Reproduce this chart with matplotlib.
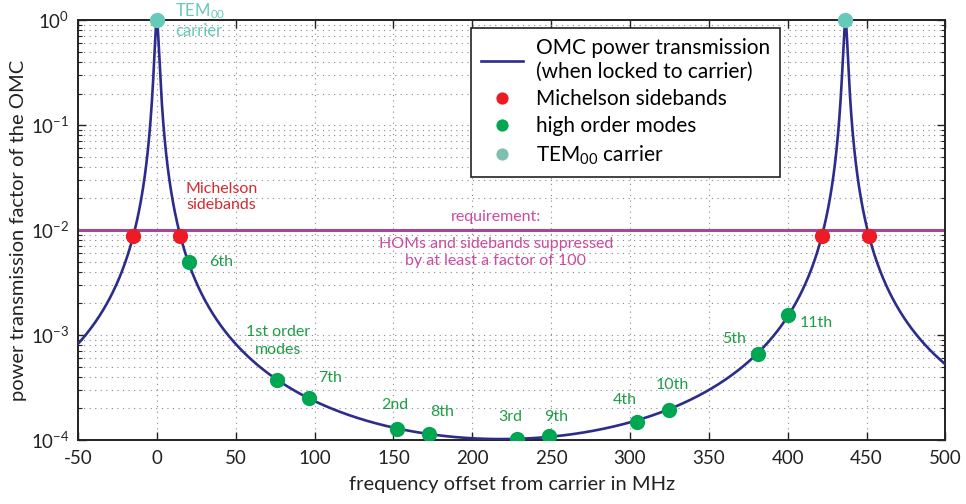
import numpy as np
import matplotlib
matplotlib.use("Agg")
import matplotlib.pyplot as plt
from matplotlib.ticker import LogLocator, NullFormatter

plt.rcParams['font.family'] = ['Lato', 'DejaVu Sans']
plt.rcParams['mathtext.fontset'] = 'custom'
plt.rcParams['mathtext.rm'] = 'Lato'
plt.rcParams['mathtext.it'] = 'Lato:italic'
plt.rcParams['axes.unicode_minus'] = False

# cavity parameters (free spectral range in MHz, coefficient of finesse)
fsr = 436.6
coef = 9800.0

# carrier and sidebands
carrier_f = [0.0, 436.6]
carrier_t = [1.0, 1.0]
sideband_f = [-15.0, 14.8, 421.6, 451.6]
sideband_t = [0.0088, 0.0088, 0.0088, 0.0088]

# high order modes
hom_f = [20.3, 76.0, 96.3, 152.1, 172.4, 228.1, 248.4, 304.2, 324.5, 380.9, 400.5]
hom_t = [0.00495, 3.7e-4, 2.5e-4, 1.27e-4, 1.14e-4, 1.03e-4, 1.08e-4, 1.5e-4, 1.93e-4, 6.6e-4, 1.55e-3]

# labels of the high order modes: text, x, y
hom_labels = ['6th', '1st order\nmodes', '7th', '2nd', '8th', '3rd', '9th', '4th', '10th', '5th', '11th']
hom_label_x = [41, 77, 110, 151, 181, 224, 253, 297, 327, 366, 418]
hom_label_y = [4.95e-3, 8.8e-4, 3.9e-4, 2.15e-4, 1.85e-4, 1.66e-4, 1.66e-4, 2.4e-4, 3.34e-4, 9.16e-4, 1.3e-3]

requirement = 1e-2

navy = '#2c2c8c'
red = '#ed1c24'
green = '#00a651'
teal = '#66c9b9'
green_txt = '#1e9c46'

f = np.linspace(-50, 500, 4001)
T = 1.0 / (1.0 + coef * np.sin(np.pi * f / fsr) ** 2)

fig = plt.figure(figsize=(9.66, 5.04), dpi=100)
ax = fig.add_axes([0.0807, 0.127, 0.898, 0.833])

ax.plot(f, T, color=navy, lw=1.9, label='OMC power transmission\n(when locked to carrier)', zorder=3)
ax.axhline(requirement, color='#a2479c', lw=2.2, zorder=2)
ax.plot(sideband_f, sideband_t, 'o', color=red, ms=11, mec='none', label='Michelson sidebands', zorder=4)
ax.plot(hom_f, hom_t, 'o', color=green, ms=11, mec='none', label='high order modes', zorder=4)
ax.plot(carrier_f, carrier_t, 'o', color=teal, ms=11, mec='none', label='TEM$_{00}$ carrier', zorder=4,
        clip_on=False)

ax.set_yscale('log')
ax.set_xlim(-50, 500)
ax.set_ylim(1e-4, 1)
ax.set_xticks(np.arange(-50, 501, 50))
ax.yaxis.set_minor_locator(LogLocator(base=10, subs=np.arange(2, 10)))
ax.yaxis.set_minor_formatter(NullFormatter())
ax.tick_params(which='both', direction='in', top=True, right=True, labelsize=13.5, colors='#222222')
ax.tick_params(axis='x', pad=7)
ax.tick_params(axis='y', pad=6)
ax.tick_params(which='major', length=6, width=1)
ax.tick_params(which='minor', length=3, width=0.8)
ax.grid(True, which='major', axis='x', ls=(0, (1, 4)), color='#888888', lw=0.8)
ax.grid(True, which='both', axis='y', ls=(0, (1, 4)), color='#888888', lw=0.8)
for s in ax.spines.values():
    s.set_linewidth(1.4)
    s.set_color('#222222')

ax.set_xlabel('frequency offset from carrier in MHz', fontsize=14.5, color='#222222', labelpad=7)
ax.set_ylabel('power transmission factor of the OMC', fontsize=14.5, color='#222222', labelpad=3)

# annotations
ax.text(11.5, 1.0, 'TEM$_{00}$\ncarrier', color=teal, fontsize=12, va='center', ha='left', linespacing=1.1)
ax.text(18.5, 0.0205, 'Michelson\nsidebands', color='#d42a2f', fontsize=11.5, va='center', ha='left',
        linespacing=1.2)
ax.text(215, 0.0133, 'requirement:', color='#cc4aa0', fontsize=11.5, ha='center', va='center')
ax.text(215, 0.0061, 'HOMs and sidebands suppressed\nby at least a factor of 100',
        color='#cc4aa0', fontsize=11.5, ha='center', va='center', linespacing=1.3)
for lab, x, y in zip(hom_labels, hom_label_x, hom_label_y):
    ax.text(x, y, lab, color=green_txt, fontsize=11.5, ha='center', va='center', linespacing=1.35)

leg = ax.legend(loc='upper left', bbox_to_anchor=(471 / 966, 1 - 28 / 504), bbox_transform=fig.transFigure,
                borderaxespad=0, fontsize=15, frameon=True, fancybox=False, edgecolor='#222222', framealpha=1,
                handlelength=2.0, handletextpad=0.6, labelspacing=0.35, borderpad=0.5, markerscale=0.8)
leg.get_frame().set_linewidth(1.2)
leg.legend_handles[3].set_color('#7fbfb0')

fig.savefig('out.png', dpi=100)
